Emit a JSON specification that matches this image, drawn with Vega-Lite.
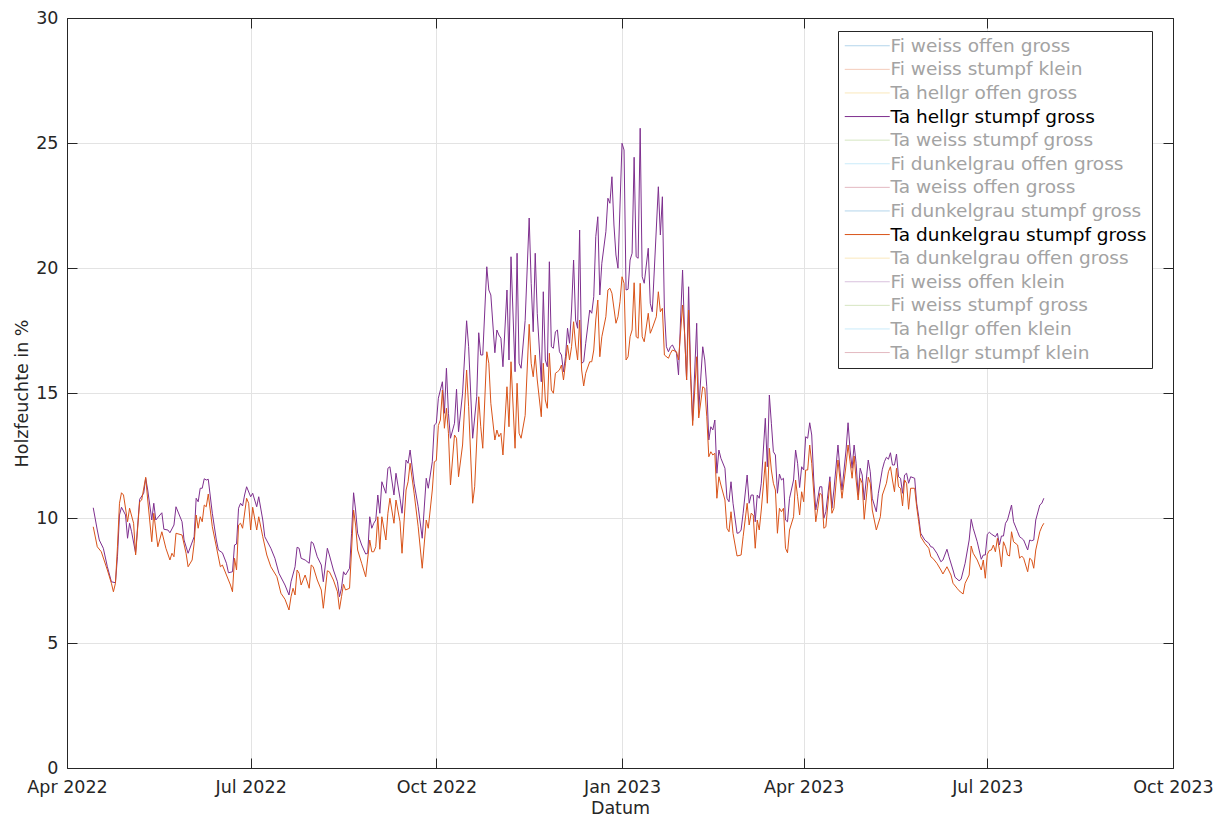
{
  "$schema": "https://vega.github.io/schema/vega-lite/v6.json",
  "width": 1106,
  "height": 750,
  "autosize": {"type": "none"},
  "padding": {"left": 67, "top": 18, "right": 54, "bottom": 53},
  "background": "white",
  "config": {
    "font": "DejaVu Sans",
    "view": {"stroke": null},
    "axis": {
      "labelFont": "DejaVu Sans",
      "titleFont": "DejaVu Sans",
      "labelFontSize": 17.5,
      "titleFontSize": 17.5,
      "titleFontWeight": "normal",
      "labelColor": "#262626",
      "titleColor": "#262626",
      "domainColor": "#262626",
      "tickColor": "#262626",
      "gridColor": "#E3E3E3",
      "domainWidth": 1,
      "tickWidth": 1,
      "gridWidth": 1,
      "zindex": 1
    }
  },
  "resolve": {"axis": {"x": "independent", "y": "independent"}},
  "layer": [
    {
      "data": {"values": [
{"d":"2022-04-14","v":10.41},{"d":"2022-04-16","v":9.52},{"d":"2022-04-17","v":9.12},{"d":"2022-04-19","v":8.79},{"d":"2022-04-21","v":8.05},{"d":"2022-04-23","v":7.45},{"d":"2022-04-25","v":7.41},{"d":"2022-04-26","v":8.45},{"d":"2022-04-27","v":10.12},{"d":"2022-04-28","v":10.43},{"d":"2022-04-30","v":10.12},
{"d":"2022-05-01","v":9.19},{"d":"2022-05-02","v":9.79},{"d":"2022-05-03","v":9.45},{"d":"2022-05-05","v":8.59},{"d":"2022-05-07","v":10.75},{"d":"2022-05-09","v":10.99},{"d":"2022-05-10","v":11.59},{"d":"2022-05-11","v":11.12},{"d":"2022-05-13","v":9.92},{"d":"2022-05-14","v":10.59},{"d":"2022-05-15","v":9.92},{"d":"2022-05-18","v":10.21},{"d":"2022-05-19","v":9.55},{"d":"2022-05-21","v":9.52},{"d":"2022-05-22","v":9.41},{"d":"2022-05-24","v":9.72},{"d":"2022-05-25","v":10.45},{"d":"2022-05-28","v":9.85},{"d":"2022-05-29","v":9.12},{"d":"2022-05-31","v":8.59},
{"d":"2022-06-03","v":9.25},{"d":"2022-06-04","v":10.79},{"d":"2022-06-05","v":10.65},{"d":"2022-06-06","v":11.19},{"d":"2022-06-07","v":11.19},{"d":"2022-06-08","v":11.57},{"d":"2022-06-09","v":11.52},{"d":"2022-06-10","v":11.55},{"d":"2022-06-12","v":10.19},{"d":"2022-06-14","v":9.12},{"d":"2022-06-15","v":8.72},{"d":"2022-06-17","v":8.61},{"d":"2022-06-19","v":8.19},{"d":"2022-06-20","v":7.81},{"d":"2022-06-22","v":7.85},{"d":"2022-06-23","v":8.92},{"d":"2022-06-24","v":8.96},{"d":"2022-06-25","v":10.39},{"d":"2022-06-26","v":10.59},{"d":"2022-06-27","v":10.48},{"d":"2022-06-28","v":10.92},{"d":"2022-06-29","v":11.25},
{"d":"2022-07-01","v":10.85},{"d":"2022-07-02","v":10.99},{"d":"2022-07-03","v":10.72},{"d":"2022-07-04","v":10.45},{"d":"2022-07-05","v":10.85},{"d":"2022-07-07","v":9.92},{"d":"2022-07-08","v":9.25},{"d":"2022-07-11","v":8.79},{"d":"2022-07-13","v":8.39},{"d":"2022-07-15","v":7.79},{"d":"2022-07-18","v":7.32},{"d":"2022-07-20","v":6.92},{"d":"2022-07-21","v":7.45},{"d":"2022-07-23","v":8.05},{"d":"2022-07-24","v":8.83},{"d":"2022-07-25","v":8.79},{"d":"2022-07-26","v":8.39},{"d":"2022-07-28","v":8.32},{"d":"2022-07-30","v":8.19},{"d":"2022-07-31","v":9.05},
{"d":"2022-08-01","v":8.99},{"d":"2022-08-03","v":8.45},{"d":"2022-08-05","v":8.12},{"d":"2022-08-06","v":7.45},{"d":"2022-08-08","v":8.79},{"d":"2022-08-09","v":8.52},{"d":"2022-08-11","v":7.92},{"d":"2022-08-13","v":7.45},{"d":"2022-08-14","v":6.85},{"d":"2022-08-15","v":7.19},{"d":"2022-08-16","v":7.85},{"d":"2022-08-17","v":7.72},{"d":"2022-08-19","v":7.99},{"d":"2022-08-20","v":9.39},{"d":"2022-08-21","v":11.01},{"d":"2022-08-22","v":10.32},{"d":"2022-08-23","v":9.39},{"d":"2022-08-25","v":8.92},{"d":"2022-08-27","v":8.56},{"d":"2022-08-28","v":8.59},{"d":"2022-08-29","v":10.05},{"d":"2022-08-30","v":9.59},{"d":"2022-08-31","v":9.79},
{"d":"2022-09-01","v":9.92},{"d":"2022-09-02","v":10.92},{"d":"2022-09-03","v":10.19},{"d":"2022-09-04","v":11.45},{"d":"2022-09-06","v":10.99},{"d":"2022-09-07","v":11.99},{"d":"2022-09-08","v":12.05},{"d":"2022-09-10","v":10.92},{"d":"2022-09-11","v":11.79},{"d":"2022-09-13","v":10.79},{"d":"2022-09-14","v":10.19},{"d":"2022-09-16","v":12.32},{"d":"2022-09-17","v":12.19},{"d":"2022-09-18","v":12.72},{"d":"2022-09-20","v":11.39},{"d":"2022-09-22","v":10.45},{"d":"2022-09-24","v":9.19},{"d":"2022-09-26","v":11.59},{"d":"2022-09-27","v":11.19},{"d":"2022-09-29","v":12.25},{"d":"2022-09-30","v":13.72},
{"d":"2022-10-01","v":13.79},{"d":"2022-10-02","v":14.79},{"d":"2022-10-04","v":15.45},{"d":"2022-10-05","v":14.19},{"d":"2022-10-06","v":15.99},{"d":"2022-10-07","v":14.19},{"d":"2022-10-08","v":13.19},{"d":"2022-10-10","v":13.79},{"d":"2022-10-11","v":15.15},{"d":"2022-10-12","v":13.45},{"d":"2022-10-14","v":14.99},{"d":"2022-10-16","v":17.89},{"d":"2022-10-17","v":16.85},{"d":"2022-10-19","v":13.19},{"d":"2022-10-21","v":14.85},{"d":"2022-10-22","v":17.41},{"d":"2022-10-23","v":16.52},{"d":"2022-10-24","v":16.52},{"d":"2022-10-26","v":20.05},{"d":"2022-10-27","v":19.12},{"d":"2022-10-28","v":18.92},{"d":"2022-10-30","v":16.61},{"d":"2022-10-31","v":17.52},
{"d":"2022-11-01","v":17.32},{"d":"2022-11-02","v":17.19},{"d":"2022-11-03","v":16.05},{"d":"2022-11-05","v":19.12},{"d":"2022-11-06","v":16.32},{"d":"2022-11-07","v":20.45},{"d":"2022-11-09","v":15.85},{"d":"2022-11-10","v":20.59},{"d":"2022-11-11","v":16.19},{"d":"2022-11-12","v":15.99},{"d":"2022-11-14","v":17.9},{"d":"2022-11-16","v":22.0},{"d":"2022-11-17","v":19.39},{"d":"2022-11-18","v":17.45},{"d":"2022-11-19","v":20.59},{"d":"2022-11-20","v":18.19},{"d":"2022-11-22","v":15.45},{"d":"2022-11-23","v":19.05},{"d":"2022-11-24","v":16.32},{"d":"2022-11-25","v":16.05},{"d":"2022-11-26","v":20.25},{"d":"2022-11-27","v":16.85},{"d":"2022-11-28","v":16.79},{"d":"2022-11-29","v":17.45},{"d":"2022-11-30","v":17.52},
{"d":"2022-12-01","v":16.65},{"d":"2022-12-02","v":16.52},{"d":"2022-12-03","v":15.85},{"d":"2022-12-04","v":16.45},{"d":"2022-12-05","v":17.59},{"d":"2022-12-06","v":16.99},{"d":"2022-12-07","v":18.32},{"d":"2022-12-08","v":20.32},{"d":"2022-12-09","v":17.92},{"d":"2022-12-10","v":17.59},{"d":"2022-12-11","v":21.52},{"d":"2022-12-12","v":16.19},{"d":"2022-12-13","v":16.25},{"d":"2022-12-14","v":16.99},{"d":"2022-12-16","v":18.32},{"d":"2022-12-17","v":18.19},{"d":"2022-12-18","v":18.85},{"d":"2022-12-19","v":21.25},{"d":"2022-12-20","v":22.05},{"d":"2022-12-21","v":18.92},{"d":"2022-12-22","v":20.19},{"d":"2022-12-24","v":21.45},{"d":"2022-12-25","v":22.79},{"d":"2022-12-26","v":22.59},{"d":"2022-12-27","v":23.65},{"d":"2022-12-28","v":21.72},{"d":"2022-12-29","v":20.52},{"d":"2022-12-30","v":19.99},
{"d":"2023-01-01","v":24.99},{"d":"2023-01-02","v":24.72},{"d":"2023-01-03","v":19.12},{"d":"2023-01-04","v":19.15},{"d":"2023-01-05","v":20.32},{"d":"2023-01-06","v":20.59},{"d":"2023-01-07","v":24.43},{"d":"2023-01-08","v":20.45},{"d":"2023-01-09","v":20.39},{"d":"2023-01-10","v":25.59},{"d":"2023-01-11","v":19.65},{"d":"2023-01-12","v":19.39},{"d":"2023-01-14","v":20.79},{"d":"2023-01-15","v":18.59},{"d":"2023-01-16","v":18.25},{"d":"2023-01-17","v":19.92},{"d":"2023-01-19","v":23.25},{"d":"2023-01-20","v":21.32},{"d":"2023-01-21","v":22.85},{"d":"2023-01-22","v":18.32},{"d":"2023-01-23","v":16.85},{"d":"2023-01-24","v":16.65},{"d":"2023-01-25","v":16.85},{"d":"2023-01-26","v":16.92},{"d":"2023-01-28","v":16.59},{"d":"2023-01-29","v":15.72},{"d":"2023-01-30","v":17.92},{"d":"2023-01-31","v":19.92},
{"d":"2023-02-01","v":17.39},{"d":"2023-02-02","v":15.52},{"d":"2023-02-03","v":19.25},{"d":"2023-02-04","v":15.85},{"d":"2023-02-05","v":13.9},{"d":"2023-02-07","v":17.79},{"d":"2023-02-08","v":14.3},{"d":"2023-02-10","v":16.85},{"d":"2023-02-11","v":16.32},{"d":"2023-02-12","v":15.25},{"d":"2023-02-13","v":13.12},{"d":"2023-02-14","v":13.65},{"d":"2023-02-15","v":13.52},{"d":"2023-02-16","v":13.92},{"d":"2023-02-17","v":11.79},{"d":"2023-02-18","v":12.72},{"d":"2023-02-19","v":12.39},{"d":"2023-02-21","v":11.99},{"d":"2023-02-22","v":10.79},{"d":"2023-02-23","v":10.65},{"d":"2023-02-24","v":11.45},{"d":"2023-02-25","v":10.59},{"d":"2023-02-27","v":9.39},{"d":"2023-02-28","v":9.41},
{"d":"2023-03-01","v":9.52},{"d":"2023-03-02","v":10.19},{"d":"2023-03-04","v":11.72},{"d":"2023-03-05","v":10.59},{"d":"2023-03-06","v":10.92},{"d":"2023-03-07","v":10.92},{"d":"2023-03-08","v":9.85},{"d":"2023-03-09","v":10.92},{"d":"2023-03-10","v":10.79},{"d":"2023-03-11","v":11.39},{"d":"2023-03-13","v":13.99},{"d":"2023-03-14","v":12.05},{"d":"2023-03-15","v":14.92},{"d":"2023-03-16","v":13.79},{"d":"2023-03-17","v":12.65},{"d":"2023-03-18","v":12.52},{"d":"2023-03-19","v":10.99},{"d":"2023-03-20","v":11.76},{"d":"2023-03-21","v":11.52},{"d":"2023-03-22","v":11.59},{"d":"2023-03-23","v":9.92},{"d":"2023-03-24","v":9.85},{"d":"2023-03-25","v":10.79},{"d":"2023-03-27","v":11.52},{"d":"2023-03-28","v":12.72},{"d":"2023-03-29","v":12.19},{"d":"2023-03-30","v":11.22},{"d":"2023-03-31","v":12.05},
{"d":"2023-04-01","v":11.92},{"d":"2023-04-02","v":13.25},{"d":"2023-04-03","v":13.19},{"d":"2023-04-04","v":13.81},{"d":"2023-04-05","v":13.32},{"d":"2023-04-06","v":11.52},{"d":"2023-04-07","v":10.32},{"d":"2023-04-09","v":11.25},{"d":"2023-04-10","v":11.25},{"d":"2023-04-11","v":9.99},{"d":"2023-04-12","v":10.25},{"d":"2023-04-14","v":11.65},{"d":"2023-04-15","v":10.39},{"d":"2023-04-16","v":11.12},{"d":"2023-04-18","v":12.92},{"d":"2023-04-19","v":11.92},{"d":"2023-04-20","v":11.12},{"d":"2023-04-22","v":12.72},{"d":"2023-04-23","v":13.81},{"d":"2023-04-24","v":12.72},{"d":"2023-04-25","v":11.99},{"d":"2023-04-26","v":12.92},{"d":"2023-04-27","v":12.19},{"d":"2023-04-28","v":10.92},{"d":"2023-04-29","v":11.99},{"d":"2023-04-30","v":11.72},
{"d":"2023-05-01","v":10.72},{"d":"2023-05-03","v":12.32},{"d":"2023-05-04","v":11.85},{"d":"2023-05-05","v":10.79},{"d":"2023-05-07","v":10.25},{"d":"2023-05-08","v":10.99},{"d":"2023-05-10","v":11.95},{"d":"2023-05-11","v":12.25},{"d":"2023-05-12","v":12.43},{"d":"2023-05-13","v":12.35},{"d":"2023-05-14","v":12.61},{"d":"2023-05-15","v":12.12},{"d":"2023-05-16","v":12.12},{"d":"2023-05-17","v":12.56},{"d":"2023-05-18","v":11.65},{"d":"2023-05-19","v":11.59},{"d":"2023-05-20","v":10.99},{"d":"2023-05-21","v":11.72},{"d":"2023-05-22","v":11.79},{"d":"2023-05-23","v":11.39},{"d":"2023-05-24","v":11.65},{"d":"2023-05-26","v":11.59},{"d":"2023-05-27","v":10.59},{"d":"2023-05-28","v":10.05},{"d":"2023-05-29","v":9.39},{"d":"2023-05-31","v":9.12},
{"d":"2023-06-02","v":8.99},{"d":"2023-06-03","v":8.85},{"d":"2023-06-04","v":8.83},{"d":"2023-06-06","v":8.59},{"d":"2023-06-08","v":8.25},{"d":"2023-06-09","v":8.32},{"d":"2023-06-11","v":8.75},{"d":"2023-06-12","v":8.45},{"d":"2023-06-14","v":7.92},{"d":"2023-06-15","v":7.63},{"d":"2023-06-17","v":7.49},{"d":"2023-06-18","v":7.55},{"d":"2023-06-20","v":8.19},{"d":"2023-06-22","v":9.12},{"d":"2023-06-23","v":9.95},{"d":"2023-06-24","v":9.59},{"d":"2023-06-26","v":9.05},{"d":"2023-06-28","v":8.35},{"d":"2023-06-29","v":8.52},{"d":"2023-06-30","v":8.52},
{"d":"2023-07-01","v":9.35},{"d":"2023-07-02","v":9.43},{"d":"2023-07-03","v":9.36},{"d":"2023-07-05","v":9.25},{"d":"2023-07-06","v":9.39},{"d":"2023-07-07","v":8.92},{"d":"2023-07-08","v":9.28},{"d":"2023-07-09","v":9.28},{"d":"2023-07-10","v":9.79},{"d":"2023-07-11","v":9.92},{"d":"2023-07-13","v":10.52},{"d":"2023-07-14","v":9.85},{"d":"2023-07-16","v":9.45},{"d":"2023-07-17","v":9.25},{"d":"2023-07-18","v":9.19},{"d":"2023-07-19","v":9.12},{"d":"2023-07-21","v":8.72},{"d":"2023-07-22","v":9.12},{"d":"2023-07-23","v":9.09},{"d":"2023-07-24","v":9.12},{"d":"2023-07-25","v":9.92},{"d":"2023-07-27","v":10.52},{"d":"2023-07-28","v":10.59},{"d":"2023-07-29","v":10.79}
      ]},
      "mark": {"type": "line", "strokeWidth": 1, "interpolate": "linear"},
      "encoding": {
        "x": {
          "field": "d", "type": "temporal", "title": "Datum",
          "scale": {"type": "utc", "domain": [{"year": 2022, "month": 4, "date": 1, "utc": true}, {"year": 2023, "month": 10, "date": 1, "utc": true}]},
          "axis": {
            "orient": "bottom",
            "values": [{"year": 2022, "month": 4, "date": 1, "utc": true}, {"year": 2022, "month": 7, "date": 1, "utc": true}, {"year": 2022, "month": 10, "date": 1, "utc": true}, {"year": 2023, "month": 1, "date": 1, "utc": true}, {"year": 2023, "month": 4, "date": 1, "utc": true}, {"year": 2023, "month": 7, "date": 1, "utc": true}, {"year": 2023, "month": 10, "date": 1, "utc": true}],
            "format": "%b %Y",
            "grid": true,
            "tickSize": -10,
            "labelPadding": 20,
            "labelFlush": false,
            "labelOverlap": false,
            "titlePadding": 4
          }
        },
        "y": {
          "field": "v", "type": "quantitative", "title": "Holzfeuchte in %",
          "scale": {"domain": [0, 30], "nice": false, "zero": true},
          "axis": {
            "orient": "left",
            "values": [0, 5, 10, 15, 20, 25, 30],
            "grid": true,
            "tickSize": -10,
            "labelPadding": 19,
            "titlePadding": 4
          }
        },
        "color": {
          "datum": "Ta hellgr stumpf gross",
          "type": "nominal",
          "scale": {
            "domain": ["Fi weiss offen gross", "Fi weiss stumpf klein", "Ta hellgr offen gross", "Ta hellgr stumpf gross", "Ta weiss stumpf gross", "Fi dunkelgrau offen gross", "Ta weiss offen gross", "Fi dunkelgrau stumpf gross", "Ta dunkelgrau stumpf gross", "Ta dunkelgrau offen gross", "Fi weiss offen klein", "Fi weiss stumpf gross", "Ta hellgr offen klein", "Ta hellgr stumpf klein"],
            "range": ["#B3D5EB", "#F4CBBA", "#FAE8BC", "#7E2F8E", "#D6E6C1", "#CAEBFA", "#E3B9C1", "#B3D5EB", "#D95319", "#FAE8BC", "#D8C1DD", "#D6E6C1", "#CAEBFA", "#E3B9C1"]
          },
          "legend": {
            "orient": "none",
            "legendX": 771,
            "legendY": 13,
            "title": null,
            "direction": "vertical",
            "symbolType": "M-3,0H3",
            "symbolSize": 225,
            "symbolStrokeWidth": 1,
            "symbolOffset": 14.5,
            "labelOffset": 14,
            "labelFont": "DejaVu Sans",
            "labelFontSize": 18.5,
            "labelLimit": 500,
            "labelColor": {"expr": "datum.label == 'Ta hellgr stumpf gross' || datum.label == 'Ta dunkelgrau stumpf gross' ? '#000000' : '#A3A3A3'"},
            "rowPadding": 4.6,
            "padding": 5.5,
            "strokeColor": "#262626",
            "fillColor": "#FFFFFF",
            "zindex": 2
          }
        }
      }
    },
    {
      "data": {"values": [
{"d":"2022-04-14","v":9.65},{"d":"2022-04-16","v":8.85},{"d":"2022-04-18","v":8.65},{"d":"2022-04-21","v":7.92},{"d":"2022-04-23","v":7.39},{"d":"2022-04-24","v":7.05},{"d":"2022-04-25","v":7.39},{"d":"2022-04-26","v":8.85},{"d":"2022-04-27","v":10.59},{"d":"2022-04-28","v":11.01},{"d":"2022-04-29","v":10.92},
{"d":"2022-05-01","v":9.85},{"d":"2022-05-02","v":10.39},{"d":"2022-05-04","v":9.79},{"d":"2022-05-05","v":8.52},{"d":"2022-05-07","v":10.65},{"d":"2022-05-08","v":10.72},{"d":"2022-05-10","v":11.63},{"d":"2022-05-11","v":10.72},{"d":"2022-05-13","v":9.05},{"d":"2022-05-14","v":10.19},{"d":"2022-05-16","v":8.85},{"d":"2022-05-18","v":9.45},{"d":"2022-05-20","v":8.79},{"d":"2022-05-22","v":8.32},{"d":"2022-05-23","v":8.59},{"d":"2022-05-24","v":8.45},{"d":"2022-05-25","v":9.39},{"d":"2022-05-28","v":9.32},{"d":"2022-05-30","v":8.59},{"d":"2022-05-31","v":8.05},
{"d":"2022-06-02","v":8.32},{"d":"2022-06-03","v":8.99},{"d":"2022-06-04","v":10.12},{"d":"2022-06-05","v":9.59},{"d":"2022-06-06","v":10.05},{"d":"2022-06-07","v":9.85},{"d":"2022-06-08","v":10.52},{"d":"2022-06-09","v":10.45},{"d":"2022-06-10","v":10.96},{"d":"2022-06-12","v":9.65},{"d":"2022-06-14","v":8.85},{"d":"2022-06-16","v":8.05},{"d":"2022-06-17","v":8.12},{"d":"2022-06-19","v":7.72},{"d":"2022-06-21","v":7.32},{"d":"2022-06-22","v":7.05},{"d":"2022-06-23","v":8.39},{"d":"2022-06-24","v":7.92},{"d":"2022-06-25","v":9.72},{"d":"2022-06-26","v":9.79},{"d":"2022-06-27","v":9.59},{"d":"2022-06-29","v":10.79},{"d":"2022-06-30","v":10.59},
{"d":"2022-07-01","v":9.52},{"d":"2022-07-02","v":10.43},{"d":"2022-07-04","v":9.52},{"d":"2022-07-05","v":10.05},{"d":"2022-07-07","v":9.25},{"d":"2022-07-09","v":8.52},{"d":"2022-07-11","v":8.05},{"d":"2022-07-14","v":7.65},{"d":"2022-07-16","v":6.99},{"d":"2022-07-18","v":6.75},{"d":"2022-07-20","v":6.32},{"d":"2022-07-21","v":6.85},{"d":"2022-07-22","v":7.19},{"d":"2022-07-23","v":6.92},{"d":"2022-07-24","v":7.92},{"d":"2022-07-25","v":7.79},{"d":"2022-07-26","v":7.32},{"d":"2022-07-28","v":7.72},{"d":"2022-07-30","v":7.19},{"d":"2022-07-31","v":8.12},
{"d":"2022-08-01","v":8.05},{"d":"2022-08-03","v":7.52},{"d":"2022-08-05","v":7.12},{"d":"2022-08-06","v":6.39},{"d":"2022-08-08","v":7.89},{"d":"2022-08-09","v":7.85},{"d":"2022-08-11","v":7.52},{"d":"2022-08-13","v":7.05},{"d":"2022-08-14","v":6.35},{"d":"2022-08-15","v":6.85},{"d":"2022-08-16","v":7.35},{"d":"2022-08-17","v":7.12},{"d":"2022-08-19","v":7.19},{"d":"2022-08-20","v":8.72},{"d":"2022-08-21","v":10.32},{"d":"2022-08-22","v":9.72},{"d":"2022-08-23","v":8.72},{"d":"2022-08-25","v":8.19},{"d":"2022-08-27","v":7.65},{"d":"2022-08-29","v":9.12},{"d":"2022-08-30","v":8.65},{"d":"2022-08-31","v":8.65},
{"d":"2022-09-01","v":8.85},{"d":"2022-09-02","v":10.05},{"d":"2022-09-03","v":8.75},{"d":"2022-09-04","v":10.05},{"d":"2022-09-06","v":9.12},{"d":"2022-09-07","v":10.19},{"d":"2022-09-08","v":10.79},{"d":"2022-09-10","v":9.79},{"d":"2022-09-11","v":10.72},{"d":"2022-09-13","v":9.85},{"d":"2022-09-14","v":8.59},{"d":"2022-09-16","v":11.12},{"d":"2022-09-17","v":11.45},{"d":"2022-09-18","v":12.19},{"d":"2022-09-20","v":10.99},{"d":"2022-09-22","v":9.65},{"d":"2022-09-24","v":7.99},{"d":"2022-09-26","v":9.92},{"d":"2022-09-27","v":9.59},{"d":"2022-09-29","v":11.12},{"d":"2022-09-30","v":12.25},
{"d":"2022-10-01","v":12.3},{"d":"2022-10-02","v":13.7},{"d":"2022-10-03","v":13.92},{"d":"2022-10-04","v":15.12},{"d":"2022-10-05","v":13.59},{"d":"2022-10-06","v":14.39},{"d":"2022-10-07","v":13.39},{"d":"2022-10-08","v":11.32},{"d":"2022-10-10","v":13.32},{"d":"2022-10-11","v":13.19},{"d":"2022-10-12","v":11.65},{"d":"2022-10-14","v":12.92},{"d":"2022-10-16","v":15.92},{"d":"2022-10-17","v":14.45},{"d":"2022-10-19","v":10.59},{"d":"2022-10-20","v":11.25},{"d":"2022-10-22","v":14.85},{"d":"2022-10-23","v":13.65},{"d":"2022-10-24","v":12.79},{"d":"2022-10-26","v":16.65},{"d":"2022-10-27","v":16.19},{"d":"2022-10-28","v":14.59},{"d":"2022-10-30","v":13.12},{"d":"2022-10-31","v":13.52},
{"d":"2022-11-01","v":13.25},{"d":"2022-11-02","v":13.39},{"d":"2022-11-03","v":12.52},{"d":"2022-11-05","v":15.25},{"d":"2022-11-06","v":13.65},{"d":"2022-11-07","v":16.25},{"d":"2022-11-09","v":12.79},{"d":"2022-11-10","v":15.39},{"d":"2022-11-11","v":13.39},{"d":"2022-11-12","v":13.19},{"d":"2022-11-14","v":14.1},{"d":"2022-11-16","v":17.75},{"d":"2022-11-17","v":16.19},{"d":"2022-11-18","v":15.65},{"d":"2022-11-19","v":16.52},{"d":"2022-11-20","v":15.52},{"d":"2022-11-22","v":14.05},{"d":"2022-11-23","v":16.19},{"d":"2022-11-24","v":14.72},{"d":"2022-11-25","v":14.39},{"d":"2022-11-26","v":16.59},{"d":"2022-11-27","v":15.12},{"d":"2022-11-28","v":14.99},{"d":"2022-11-29","v":15.79},{"d":"2022-11-30","v":15.85},
{"d":"2022-12-01","v":15.92},{"d":"2022-12-02","v":16.12},{"d":"2022-12-03","v":15.52},{"d":"2022-12-04","v":16.19},{"d":"2022-12-05","v":16.92},{"d":"2022-12-06","v":16.32},{"d":"2022-12-07","v":16.85},{"d":"2022-12-08","v":17.85},{"d":"2022-12-09","v":16.92},{"d":"2022-12-10","v":16.32},{"d":"2022-12-11","v":17.92},{"d":"2022-12-12","v":15.92},{"d":"2022-12-13","v":15.28},{"d":"2022-12-14","v":15.79},{"d":"2022-12-16","v":16.25},{"d":"2022-12-17","v":16.25},{"d":"2022-12-18","v":16.72},{"d":"2022-12-19","v":17.92},{"d":"2022-12-20","v":18.72},{"d":"2022-12-21","v":16.45},{"d":"2022-12-22","v":17.25},{"d":"2022-12-24","v":18.05},{"d":"2022-12-25","v":19.12},{"d":"2022-12-26","v":19.19},{"d":"2022-12-27","v":18.99},{"d":"2022-12-29","v":17.79},{"d":"2022-12-30","v":18.05},{"d":"2022-12-31","v":18.65},
{"d":"2023-01-01","v":19.65},{"d":"2023-01-02","v":19.39},{"d":"2023-01-03","v":16.32},{"d":"2023-01-04","v":16.45},{"d":"2023-01-05","v":17.25},{"d":"2023-01-06","v":17.52},{"d":"2023-01-07","v":19.41},{"d":"2023-01-08","v":17.25},{"d":"2023-01-09","v":17.19},{"d":"2023-01-10","v":19.39},{"d":"2023-01-11","v":17.25},{"d":"2023-01-12","v":17.05},{"d":"2023-01-14","v":18.19},{"d":"2023-01-15","v":17.39},{"d":"2023-01-16","v":17.59},{"d":"2023-01-18","v":18.05},{"d":"2023-01-19","v":19.05},{"d":"2023-01-20","v":18.25},{"d":"2023-01-21","v":18.39},{"d":"2023-01-22","v":16.52},{"d":"2023-01-24","v":16.39},{"d":"2023-01-25","v":16.59},{"d":"2023-01-26","v":16.72},{"d":"2023-01-28","v":16.65},{"d":"2023-01-29","v":16.32},{"d":"2023-01-31","v":18.52},
{"d":"2023-02-01","v":17.39},{"d":"2023-02-02","v":15.52},{"d":"2023-02-03","v":18.32},{"d":"2023-02-04","v":15.59},{"d":"2023-02-05","v":13.7},{"d":"2023-02-07","v":16.45},{"d":"2023-02-08","v":14.0},{"d":"2023-02-10","v":15.25},{"d":"2023-02-11","v":15.19},{"d":"2023-02-12","v":14.05},{"d":"2023-02-13","v":12.45},{"d":"2023-02-14","v":12.65},{"d":"2023-02-15","v":12.52},{"d":"2023-02-16","v":12.59},{"d":"2023-02-17","v":10.79},{"d":"2023-02-18","v":11.65},{"d":"2023-02-19","v":11.32},{"d":"2023-02-21","v":10.72},{"d":"2023-02-22","v":9.59},{"d":"2023-02-23","v":9.45},{"d":"2023-02-24","v":10.25},{"d":"2023-02-25","v":9.39},{"d":"2023-02-27","v":8.48},
{"d":"2023-03-01","v":8.52},{"d":"2023-03-02","v":9.25},{"d":"2023-03-04","v":10.59},{"d":"2023-03-05","v":9.72},{"d":"2023-03-06","v":10.19},{"d":"2023-03-07","v":10.12},{"d":"2023-03-08","v":8.79},{"d":"2023-03-09","v":9.92},{"d":"2023-03-10","v":9.52},{"d":"2023-03-11","v":10.32},{"d":"2023-03-13","v":12.25},{"d":"2023-03-14","v":10.59},{"d":"2023-03-15","v":12.79},{"d":"2023-03-16","v":11.92},{"d":"2023-03-17","v":11.39},{"d":"2023-03-18","v":11.12},{"d":"2023-03-19","v":9.39},{"d":"2023-03-20","v":10.39},{"d":"2023-03-21","v":10.25},{"d":"2023-03-22","v":10.39},{"d":"2023-03-23","v":8.79},{"d":"2023-03-24","v":8.61},{"d":"2023-03-25","v":9.52},{"d":"2023-03-27","v":10.05},{"d":"2023-03-28","v":11.52},{"d":"2023-03-29","v":10.85},{"d":"2023-03-30","v":10.12},{"d":"2023-03-31","v":11.05},
{"d":"2023-04-01","v":10.65},{"d":"2023-04-02","v":11.92},{"d":"2023-04-03","v":11.92},{"d":"2023-04-04","v":12.92},{"d":"2023-04-05","v":12.19},{"d":"2023-04-07","v":9.85},{"d":"2023-04-08","v":10.39},{"d":"2023-04-09","v":10.99},{"d":"2023-04-10","v":10.92},{"d":"2023-04-11","v":9.59},{"d":"2023-04-12","v":9.65},{"d":"2023-04-14","v":11.45},{"d":"2023-04-15","v":10.19},{"d":"2023-04-16","v":10.39},{"d":"2023-04-18","v":12.32},{"d":"2023-04-19","v":11.52},{"d":"2023-04-20","v":10.79},{"d":"2023-04-22","v":12.12},{"d":"2023-04-23","v":12.92},{"d":"2023-04-24","v":12.25},{"d":"2023-04-25","v":11.59},{"d":"2023-04-26","v":12.48},{"d":"2023-04-27","v":11.52},{"d":"2023-04-28","v":10.72},{"d":"2023-04-29","v":11.59},{"d":"2023-04-30","v":11.39},
{"d":"2023-05-01","v":9.95},{"d":"2023-05-03","v":11.63},{"d":"2023-05-04","v":11.39},{"d":"2023-05-05","v":10.32},{"d":"2023-05-07","v":9.52},{"d":"2023-05-09","v":10.05},{"d":"2023-05-10","v":10.92},{"d":"2023-05-12","v":11.39},{"d":"2023-05-13","v":11.85},{"d":"2023-05-14","v":12.05},{"d":"2023-05-15","v":11.52},{"d":"2023-05-16","v":11.05},{"d":"2023-05-17","v":11.99},{"d":"2023-05-18","v":11.25},{"d":"2023-05-19","v":11.19},{"d":"2023-05-20","v":10.48},{"d":"2023-05-21","v":11.52},{"d":"2023-05-22","v":11.39},{"d":"2023-05-23","v":10.35},{"d":"2023-05-24","v":11.19},{"d":"2023-05-26","v":11.19},{"d":"2023-05-27","v":10.45},{"d":"2023-05-28","v":9.85},{"d":"2023-05-29","v":9.25},{"d":"2023-05-31","v":8.99},
{"d":"2023-06-02","v":8.79},{"d":"2023-06-03","v":8.45},{"d":"2023-06-04","v":8.39},{"d":"2023-06-06","v":8.19},{"d":"2023-06-08","v":7.92},{"d":"2023-06-09","v":7.76},{"d":"2023-06-11","v":8.05},{"d":"2023-06-13","v":7.72},{"d":"2023-06-14","v":7.39},{"d":"2023-06-16","v":7.19},{"d":"2023-06-17","v":7.09},{"d":"2023-06-19","v":6.96},{"d":"2023-06-20","v":7.39},{"d":"2023-06-22","v":7.72},{"d":"2023-06-23","v":8.88},{"d":"2023-06-24","v":8.59},{"d":"2023-06-26","v":8.32},{"d":"2023-06-28","v":7.92},{"d":"2023-06-29","v":8.32},{"d":"2023-06-30","v":7.59},
{"d":"2023-07-01","v":8.55},{"d":"2023-07-02","v":8.7},{"d":"2023-07-03","v":8.72},{"d":"2023-07-04","v":8.92},{"d":"2023-07-05","v":8.65},{"d":"2023-07-06","v":9.19},{"d":"2023-07-07","v":8.72},{"d":"2023-07-08","v":8.05},{"d":"2023-07-09","v":9.05},{"d":"2023-07-10","v":8.85},{"d":"2023-07-11","v":8.52},{"d":"2023-07-12","v":8.48},{"d":"2023-07-13","v":9.45},{"d":"2023-07-14","v":9.05},{"d":"2023-07-16","v":8.92},{"d":"2023-07-17","v":8.39},{"d":"2023-07-18","v":8.48},{"d":"2023-07-19","v":8.39},{"d":"2023-07-21","v":7.85},{"d":"2023-07-22","v":8.39},{"d":"2023-07-23","v":8.32},{"d":"2023-07-24","v":7.99},{"d":"2023-07-25","v":8.72},{"d":"2023-07-27","v":9.45},{"d":"2023-07-28","v":9.65},{"d":"2023-07-29","v":9.79}
      ]},
      "mark": {"type": "line", "strokeWidth": 1, "interpolate": "linear"},
      "encoding": {
        "x": {
          "field": "d", "type": "temporal",
          "axis": {
            "orient": "top",
            "values": [{"year": 2022, "month": 4, "date": 1, "utc": true}, {"year": 2022, "month": 7, "date": 1, "utc": true}, {"year": 2022, "month": 10, "date": 1, "utc": true}, {"year": 2023, "month": 1, "date": 1, "utc": true}, {"year": 2023, "month": 4, "date": 1, "utc": true}, {"year": 2023, "month": 7, "date": 1, "utc": true}, {"year": 2023, "month": 10, "date": 1, "utc": true}],
            "labels": false,
            "title": null,
            "grid": false,
            "tickSize": -10
          }
        },
        "y": {
          "field": "v", "type": "quantitative",
          "axis": {
            "orient": "right",
            "values": [0, 5, 10, 15, 20, 25, 30],
            "labels": false,
            "title": null,
            "grid": false,
            "tickSize": -10
          }
        },
        "color": {"datum": "Ta dunkelgrau stumpf gross", "type": "nominal"}
      }
    }
  ]
}
